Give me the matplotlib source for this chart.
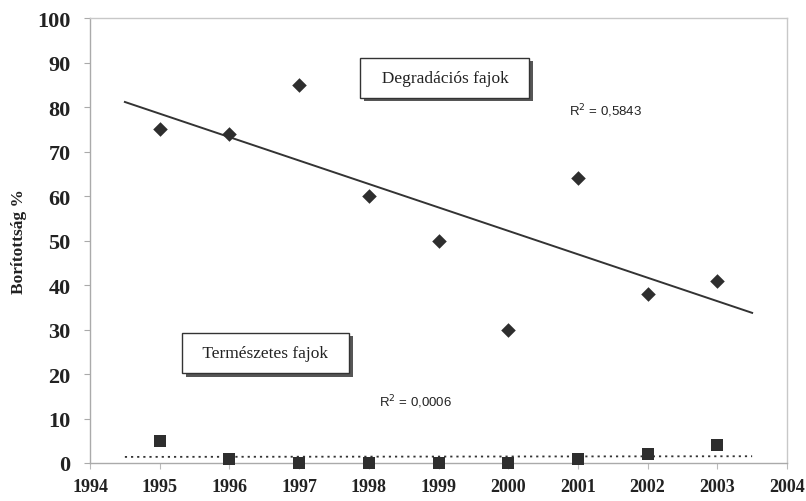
import numpy as np
import matplotlib
matplotlib.use("Agg")
import matplotlib.pyplot as plt
from matplotlib import patheffects as pe

# Cover values per year
years = [1995, 1996, 1997, 1998, 1999, 2000, 2001, 2002, 2003]
degradacios = [75, 74, 85, 60, 50, 30, 64, 38, 41]
termeszetes = [5, 1, 0, 0, 0, 0, 1, 2, 4]

x_ticks = list(range(1994, 2005))
y_ticks = list(range(0, 101, 10))

serif = ["Liberation Serif", "DejaVu Serif"]
sans = ["Liberation Sans", "DejaVu Sans"]

fig = plt.figure(figsize=(8.06, 5.02), dpi=100)
ax = fig.add_axes([0.1117, 0.0757, 0.8647, 0.8863])

mark_col = "#2e2e2e"
ax.scatter(years, degradacios, marker="D", s=55, color=mark_col, zorder=3,
           linewidths=0, clip_on=False)
ax.scatter(years, termeszetes, marker="s", s=85, color=mark_col, zorder=3,
           linewidths=0, clip_on=False)


def trend(xs, ys):
    xs = np.asarray(xs, float)
    ys = np.asarray(ys, float)
    k, b = np.polyfit(xs, ys, 1)
    pred = k * xs + b
    r2 = 1 - np.sum((ys - pred) ** 2) / np.sum((ys - ys.mean()) ** 2)
    xl = np.array([xs.min() - 0.5, xs.max() + 0.5])
    return xl, k * xl + b, r2


xl, yl, r2_d = trend(years, degradacios)
ax.plot(xl, yl, color="#333", lw=1.4, zorder=2)
xl2, yl2, r2_t = trend(years, termeszetes)
ax.plot(xl2, yl2, color="#333", lw=1.3, ls=(0, (1.2, 2.2)), zorder=2)

ax.text(2001.39, 79.3, "R$^2$ = " + f"{r2_d:.4f}".replace(".", ","),
        family=sans, fontsize=9.5, ha="center", va="center", color="#222")
ax.text(1998.67, 13.9, "R$^2$ = " + f"{r2_t:.4f}".replace(".", ","),
        family=sans, fontsize=9.5, ha="center", va="center", color="#222")

for (tx, ty, label) in [(1999.09, 86.6, "Degradációs fajok"),
                        (1996.52, 24.7, "Természetes fajok")]:
    t = ax.text(tx, ty, "  " + label + "  ", family=serif, fontsize=12.5,
                ha="center", va="center", color="#222", zorder=5,
                bbox=dict(boxstyle="square,pad=0.7", fc="white", ec="#333", lw=1.0))
    t.get_bbox_patch().set_path_effects([
        pe.SimplePatchShadow(offset=(2.5, -2.5), shadow_rgbFace="#444", alpha=0.9),
        pe.Normal()])

ax.set_xlim(1994, 2004)
ax.set_ylim(0, 100)
ax.set_xticks(x_ticks)
ax.set_yticks(y_ticks)
ax.set_xticklabels([str(v) for v in x_ticks], family=serif, fontweight="bold", fontsize=13)
ax.set_yticklabels([str(v) for v in y_ticks], family=serif, fontweight="bold", fontsize=16)
ax.tick_params(axis="y", length=4, color="#aaa", pad=10, labelcolor="#222")
ax.tick_params(axis="x", length=4, color="#bbb", pad=7, labelcolor="#222")
ax.set_ylabel("Borítottság %", family=serif, fontweight="bold", fontsize=12.5,
              color="#222", labelpad=7)

for side in ["left", "bottom"]:
    ax.spines[side].set_color("#aaa")
    ax.spines[side].set_linewidth(1.0)
for side in ["top", "right"]:
    ax.spines[side].set_color("#c8c8c8")
    ax.spines[side].set_linewidth(1.0)

fig.savefig("out.png", dpi=100, facecolor="white")
